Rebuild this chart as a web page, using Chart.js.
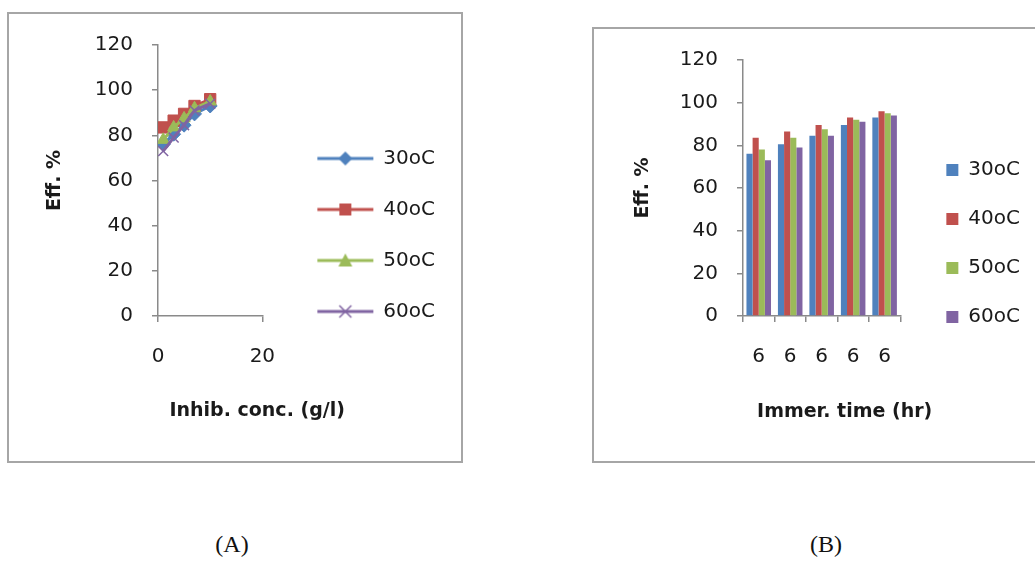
<!DOCTYPE html>
<html lang="en">
<head>
<meta charset="UTF-8">
<title>Inhibition efficiency (A) and (B)</title>
<script src="https://cdn.jsdelivr.net/npm/chart.js@4.4.1/dist/chart.umd.min.js"></script>
<style>
    body {
        margin: 0;
        background: #fff;
        width: 1035px;
        height: 562px;
        position: relative;
        overflow: hidden;
    }
    .frame {
        position: absolute;
        box-sizing: border-box;
        border: 2px solid #a6a6a6;
    }
    #frameA { left: 7px; top: 12px; width: 456px; height: 451px; }
    #frameB { left: 592px; top: 27px; width: 470px; height: 436px; }
    canvas { position: absolute; }
    #chartA { left: 10px; top: 14px; }
    #chartB { left: 595px; top: 29px; }
    .caption {
        position: absolute;
        top: 531px;
        width: 80px;
        text-align: center;
        font-family: 'Liberation Serif', serif;
        font-size: 24px;
        color: #111;
    }
</style>
</head>
<body>
<div class="frame" id="frameA"></div>
<div class="frame" id="frameB"></div>
<canvas id="chartA" width="450" height="446"></canvas>
<canvas id="chartB" width="440" height="431"></canvas>
<div class="caption" style="left:192px">(A)</div>
<div class="caption" style="left:786px">(B)</div>

<script>
    // data
    const temps = ['30oC', '40oC', '50oC', '60oC'];
    const concs = [1, 3, 5, 7, 10];            // inhibitor conc. (g/l), chart A
    const times = ['6', '6', '6', '6', '6'];   // immersion time labels, chart B
    const eff30 = [76, 80.5, 84.5, 89.5, 93];
    const eff40 = [83.5, 86.5, 89.5, 93, 96];
    const eff50 = [78, 83.5, 87.5, 92, 95];
    const eff60 = [73, 79, 84.5, 91, 94];
    const effTicks = [0, 20, 40, 60, 80, 100, 120];
    const concTicks = [0, 20];

    const series = [eff30, eff40, eff50, eff60];
    const colors = ['#4f81bd', '#c0504d', '#9bbb59', '#8064a2'];
    const markers = ['rectRot', 'rect', 'triangle', 'crossRot'];
    const axisColor = '#8a8a8a';

    Chart.defaults.font.family = "'DejaVu Sans', sans-serif";
    Chart.defaults.font.size = 20;
    Chart.defaults.color = '#1a1a1a';
    Chart.defaults.animation = false;

    // x-axis title drawn under the axis without the squeeze chart.js applies
    // to scale titles wider than the axis itself
    const xTitle = {
        id: 'xTitle',
        afterDraw(chart, args, opts) {
            const s = chart.scales.x;
            const ctx = chart.ctx;
            ctx.save();
            ctx.font = "bold 19px 'DejaVu Sans', sans-serif";
            ctx.fillStyle = '#1a1a1a';
            ctx.textAlign = 'center';
            ctx.textBaseline = 'middle';
            ctx.fillText(opts.text, (s.left + s.right) / 2 + opts.shift, s.bottom - opts.fromBottom);
            ctx.restore();
        }
    };

    // small line + marker images for the legend of chart A
    function legendImage(i) {
        const c = document.createElement('canvas');
        c.width = 60; c.height = 20;
        const g = c.getContext('2d');
        g.strokeStyle = colors[i];
        g.fillStyle = colors[i];
        g.lineWidth = 3;
        g.beginPath(); g.moveTo(2, 10); g.lineTo(58, 10); g.stroke();
        g.lineWidth = 1.5;
        g.beginPath();
        if (markers[i] === 'rectRot') {
            g.moveTo(30, 3); g.lineTo(37, 10); g.lineTo(30, 17); g.lineTo(23, 10); g.closePath(); g.fill();
        } else if (markers[i] === 'rect') {
            g.rect(24, 4, 12, 12); g.fill();
        } else if (markers[i] === 'triangle') {
            g.moveTo(30, 3); g.lineTo(37, 16); g.lineTo(23, 16); g.closePath(); g.fill();
        } else {
            g.moveTo(24, 4); g.lineTo(36, 16); g.moveTo(36, 4); g.lineTo(24, 16); g.stroke();
        }
        return c;
    }

    function axisStyle(extra) {
        return Object.assign({
            border: { display: true, color: axisColor, width: 1.5 },
            grid: { display: true, drawOnChartArea: false, drawTicks: true, tickLength: 6, color: axisColor, lineWidth: 1.5 }
        }, extra);
    }

    function gapAxis(w) {
        return {
            axis: 'y', position: 'right', display: true,
            grid: { display: false }, border: { display: false }, ticks: { display: false },
            afterFit: s => { s.width = w; }
        };
    }

    const effAxis = (w, titlePad) => axisStyle({
        min: effTicks[0], max: effTicks[effTicks.length - 1],
        afterBuildTicks: s => { s.ticks = effTicks.map(v => ({ value: v })); },
        ticks: { padding: 19 },
        title: { display: true, text: 'Eff. %', font: { size: 19, weight: 'bold' }, padding: { top: titlePad, bottom: 0 } },
        afterFit: s => { s.width = w; }
    });

    // chart A: efficiency vs inhibitor concentration
    new Chart(document.getElementById('chartA'), {
        type: 'line',
        data: {
            datasets: temps.map((t, i) => ({
                label: t,
                data: concs.map((c, j) => ({ x: c, y: series[i][j] })),
                borderColor: colors[i],
                backgroundColor: colors[i],
                borderWidth: 3,
                pointStyle: markers[i],
                pointRadius: markers[i] === 'rect' ? 8 : 7,
                pointBorderWidth: markers[i] === 'crossRot' ? 1.5 : 1,
                tension: 0,
                order: temps.length - i,
                xAxisID: 'x', yAxisID: 'y'
            }))
        },
        options: {
            responsive: false,
            layout: { padding: { left: 0, top: 28, right: 15, bottom: 32 } },
            scales: {
                x: axisStyle({
                    type: 'linear',
                    min: concTicks[0], max: concTicks[concTicks.length - 1],
                    afterBuildTicks: s => { s.ticks = concTicks.map(v => ({ value: v })); },
                    ticks: { padding: 23 },
                    afterFit: s => { s.height = 112; }
                }),
                y: effAxis(148, 34),
                gap: gapAxis(24)
            },
            plugins: {
                tooltip: { enabled: false },
                xTitle: { text: 'Inhib. conc. (g/l)', shift: 47, fromBottom: 17 },
                legend: {
                    position: 'right',
                    align: 'center',
                    maxWidth: 300,
                    labels: {
                        usePointStyle: true,
                        pointStyleWidth: 56,
                        padding: 31,
                        font: { size: 20 },
                        sort: (a, b) => a.datasetIndex - b.datasetIndex,
                        generateLabels: chart => {
                            const items = Chart.defaults.plugins.legend.labels.generateLabels(chart);
                            items.forEach(it => { it.pointStyle = legendImage(it.datasetIndex); });
                            return items;
                        }
                    }
                }
            }
        },
        plugins: [xTitle]
    });

    // chart B: efficiency vs immersion time
    new Chart(document.getElementById('chartB'), {
        type: 'bar',
        data: {
            labels: times,
            datasets: temps.map((t, i) => ({
                label: t,
                data: series[i],
                backgroundColor: colors[i],
                borderWidth: 0,
                barPercentage: 1,
                categoryPercentage: 0.78,
                xAxisID: 'x', yAxisID: 'y'
            }))
        },
        options: {
            responsive: false,
            layout: { padding: { left: 0, top: 27, right: 5, bottom: 29 } },
            scales: {
                x: axisStyle({
                    grid: { display: true, offset: true, drawOnChartArea: false, drawTicks: true, tickLength: 6, color: axisColor, lineWidth: 1.5 },
                    ticks: { padding: 23 },
                    afterFit: s => { s.height = 115; }
                }),
                y: effAxis(148, 37),
                gap: gapAxis(17)
            },
            plugins: {
                tooltip: { enabled: false },
                xTitle: { text: 'Immer. time (hr)', shift: 23, fromBottom: 19 },
                legend: {
                    position: 'right',
                    align: 'center',
                    maxWidth: 300,
                    labels: { boxWidth: 12, boxHeight: 12, padding: 29, font: { size: 20 } }
                }
            }
        },
        plugins: [xTitle]
    });
</script>
</body>
</html>
